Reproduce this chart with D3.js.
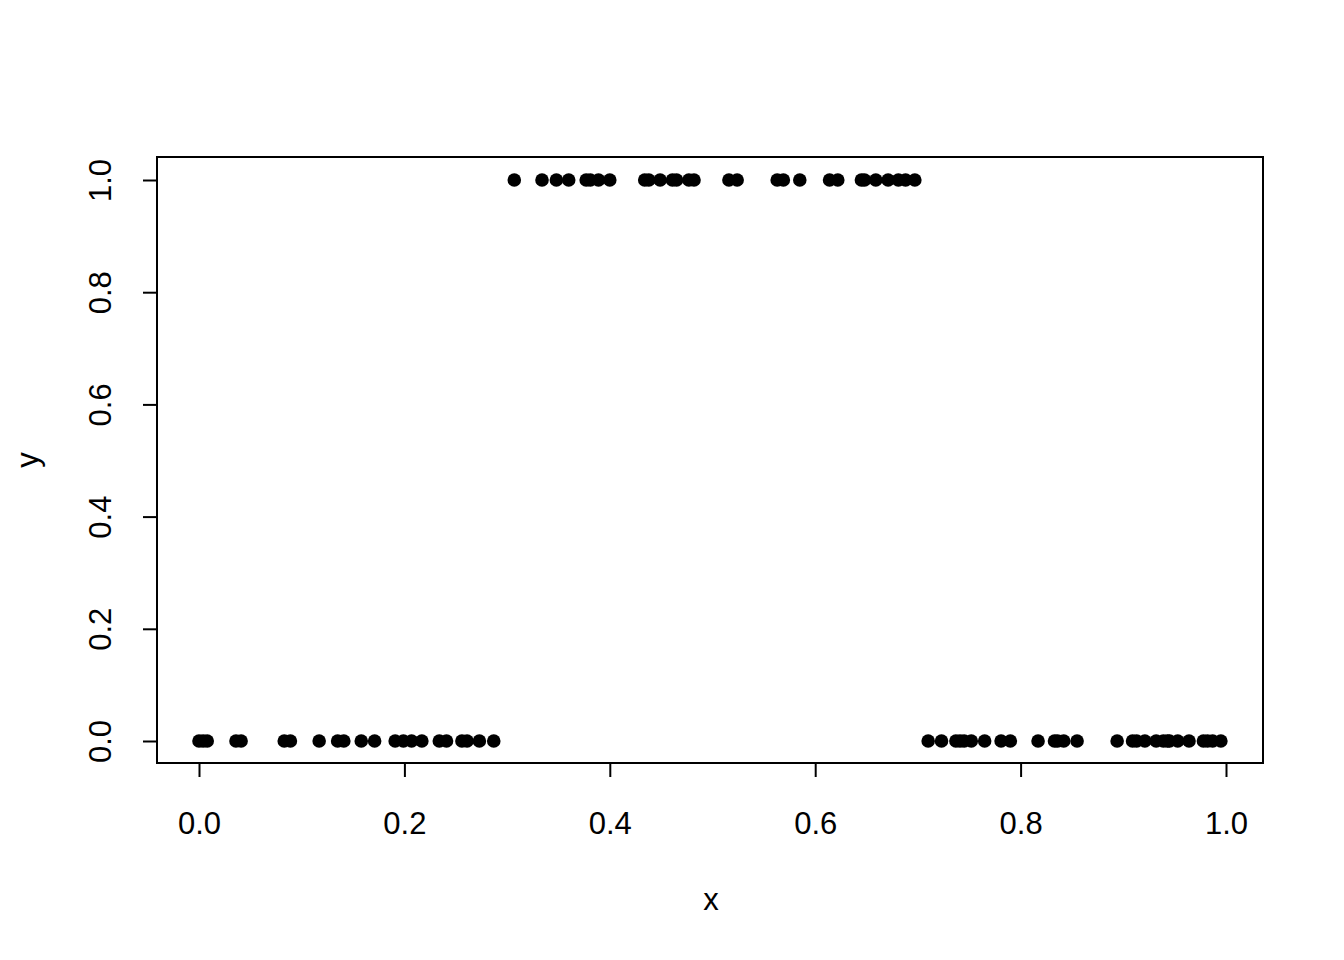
<!DOCTYPE html>
<html><head><meta charset="utf-8">
<script src="https://cdn.jsdelivr.net/npm/d3@7"></script>
<style>body{margin:0;background:#fff}</style>
</head><body>
<svg id="chart" width="1344" height="960"></svg>
<script>
const xZero = [0.000,0.004,0.008,0.036,0.041,0.083,0.089,0.117,0.135,0.141,0.158,0.171,0.191,0.199,0.207,0.217,0.234,0.241,0.256,0.261,0.273,0.287,
  0.710,0.723,0.737,0.741,0.745,0.752,0.765,0.781,0.790,0.817,0.833,0.836,0.842,0.855,0.894,0.909,0.913,0.921,0.932,0.939,0.943,0.945,0.953,0.964,0.978,0.982,0.987,0.995];
const xOne = [0.307,0.334,0.348,0.360,0.377,0.381,0.389,0.400,0.434,0.438,0.449,0.461,0.465,0.477,0.482,0.516,0.524,0.563,0.569,0.585,0.614,0.622,0.645,0.648,0.659,0.671,0.681,0.688,0.697];
const xTicks = [0, 0.2, 0.4, 0.6, 0.8, 1.0];
const yTicks = [0, 0.2, 0.4, 0.6, 0.8, 1.0];
const xLabel = "x", yLabel = "y";

const points = xZero.map(x => ({x, y: 0})).concat(xOne.map(x => ({x, y: 1})));

const svg = d3.select("#chart");
const font = "Liberation Sans, Arial, Helvetica, sans-serif";
const fs = 31;
const box = {l: 157, r: 1263, t: 157, b: 763};
const x = d3.scaleLinear().domain([0, 1]).range([199, 1226]);
const y = d3.scaleLinear().domain([0, 1]).range([741, 180]);

svg.append("rect").attr("x", box.l).attr("y", box.t)
  .attr("width", box.r - box.l).attr("height", box.b - box.t)
  .attr("fill", "none").attr("stroke", "#000").attr("stroke-width", 2);

const fmt = d3.format(".1f");
const xAxis = svg.append("g").attr("transform", `translate(0,${box.b})`)
  .call(d3.axisBottom(x).tickValues(xTicks).tickFormat(fmt).tickSize(14).tickSizeOuter(0));
xAxis.select(".domain").attr("d", `M${x(0)},0H${x(1)}`).attr("stroke-width", 2);
xAxis.selectAll(".tick line").attr("stroke-width", 2);
xAxis.selectAll(".tick text").attr("font-family", font).attr("font-size", fs).attr("fill", "#000")
  .attr("y", 60).attr("dy", "0.35em");

const yAxis = svg.append("g").attr("transform", `translate(${box.l},0)`)
  .call(d3.axisLeft(y).tickValues(yTicks).tickFormat(fmt).tickSize(14).tickSizeOuter(0));
yAxis.select(".domain").attr("d", `M0,${y(0)}V${y(1)}`).attr("stroke-width", 2);
yAxis.selectAll(".tick line").attr("stroke-width", 2);
yAxis.selectAll(".tick text")
  .attr("font-family", font).attr("font-size", fs).attr("fill", "#000")
  .attr("x", null).attr("dy", null)
  .attr("text-anchor", "middle")
  .attr("transform", "translate(-46,0) rotate(-90)")
  .attr("y", 0);

svg.append("text").attr("x", (box.l + box.r) / 2 + 1).attr("y", 910)
  .attr("text-anchor", "middle").attr("font-family", font).attr("font-size", fs).text(xLabel);
svg.append("text").attr("transform", `translate(38,${(box.t + box.b) / 2}) rotate(-90)`)
  .attr("text-anchor", "middle").attr("font-family", font).attr("font-size", fs).text(yLabel);

svg.append("g").selectAll("circle").data(points).join("circle")
  .attr("cx", d => x(d.x)).attr("cy", d => y(d.y)).attr("r", 6.8).attr("fill", "#000");
</script>
</body></html>
